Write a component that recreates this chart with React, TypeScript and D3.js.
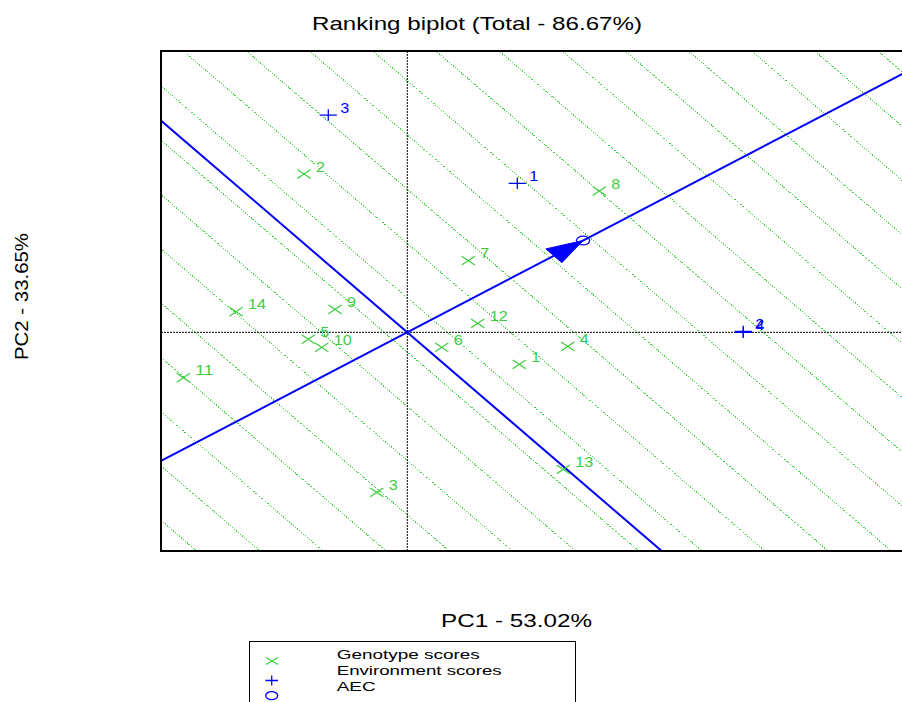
import React from "react";
import * as d3 from "d3";

// Genotype scores (PC1, PC2)
const genotypeIds = ["1", "2", "3", "4", "5", "6", "7", "8", "9", "10", "11", "12", "13", "14"];
const genotypePC1 = [1.12, -1.033, -0.306, 1.604, -0.99, 0.344, 0.61, 1.92, -0.723, -0.856, -2.24, 0.704, 1.56, -1.713];
const genotypePC2 = [-0.478, 2.363, -2.388, -0.209, -0.104, -0.224, 1.069, 2.109, 0.343, -0.224, -0.678, 0.134, -2.045, 0.307];

// Environment scores (PC1, PC2)
const environmentIds = ["1", "2", "3", "4"];
const environmentPC1 = [1.1, 3.36, -0.79, 3.36];
const environmentPC2 = [2.224, 0.012, 3.243, 0.0];

// Ranking guide lines: spacing and first level along the AEC axis
const GUIDE_STEP = 0.498;
const GUIDE_START = -0.181;

const TITLE = "Ranking biplot (Total - 86.67%)";
const X_LABEL = "PC1 - 53.02%";
const Y_LABEL = "PC2 - 33.65%";
const LEGEND_ITEMS = ["Genotype scores", "Environment scores", "AEC"];
const LEGEND_WIDTHS = [143, 165, 39];

const W = 902;
const H = 702;
const PLOT = { left: 161, right: 907, top: 51, bottom: 551 };
const X_DOMAIN = [-2.463, 4.997];
const Y_DOMAIN = [-3.264, 4.199];

const GREEN = "#3dcc3d";
const GREEN_LINE = "#44d644";
const BLUE = "#0000ff";
const FONT = "'Liberation Sans', Arial, sans-serif";
const DIGIT_W = 9; // label width per character

export default function App() {
  const x = d3.scaleLinear().domain(X_DOMAIN).range([PLOT.left, PLOT.right]);
  const y = d3.scaleLinear().domain(Y_DOMAIN).range([PLOT.bottom, PLOT.top]);

  // Average environment coordinate defines the AEC axis
  const aecX = d3.mean(environmentPC1) as number;
  const aecY = d3.mean(environmentPC2) as number;
  const len = Math.hypot(aecX, aecY);
  const ux = aecX / len;
  const uy = aecY / len;

  const FAR = 12;
  const seg = (a: [number, number], b: [number, number]) => ({ x1: x(a[0]), y1: y(a[1]), x2: x(b[0]), y2: y(b[1]) });

  const aecAxis = seg([-FAR * ux, -FAR * uy], [FAR * ux, FAR * uy]);
  const perpAxis = seg([-FAR * uy, FAR * ux], [FAR * uy, -FAR * ux]);

  const guideLevels = d3.range(-9, 15).map((k) => GUIDE_START + k * GUIDE_STEP);

  // Arrowhead (in data space) pointing at the AEC
  const headLen = 0.37;
  const headHalf = 0.13;
  const bx = aecX - headLen * ux;
  const by = aecY - headLen * uy;
  const arrowPts: [number, number][] = [
    [aecX, aecY],
    [bx + headHalf * uy, by - headHalf * ux],
    [bx - headHalf * uy, by + headHalf * ux],
  ];
  const arrowPath = "M" + arrowPts.map((p) => `${x(p[0])},${y(p[1])}`).join("L") + "Z";

  const gx = 0.066; // genotype cross half-size (data units)
  const ex = 0.086; // environment plus half-size (data units)

  const pointLabel = (id: string, px: number, py: number, color: string) => (
    <text
      x={x(px) + 12}
      y={y(py) - 2.5}
      fontSize={14.5}
      textLength={id.length * DIGIT_W}
      lengthAdjust="spacingAndGlyphs"
      fill={color}
    >
      {id}
    </text>
  );

  return (
    <svg
      width={W}
      height={H}
      style={{ position: "fixed", left: 0, top: 0, display: "block", background: "#fff" }}
      fontFamily={FONT}
    >
      <defs>
        <clipPath id="plot-clip">
          <rect x={PLOT.left} y={PLOT.top} width={PLOT.right - PLOT.left} height={PLOT.bottom - PLOT.top} />
        </clipPath>
      </defs>

      <text x={312} y={30} fontSize={18.5} textLength={330} lengthAdjust="spacingAndGlyphs" fill="#000">
        {TITLE}
      </text>

      <g clipPath="url(#plot-clip)">
        {guideLevels.map((c, i) => (
          <line
            key={i}
            {...seg([c * ux - FAR * uy, c * uy + FAR * ux], [c * ux + FAR * uy, c * uy - FAR * ux])}
            stroke={GREEN_LINE}
            strokeWidth={1}
            strokeDasharray="1.3,1.3"
            shapeRendering="crispEdges"
          />
        ))}

        <line x1={PLOT.left} x2={PLOT.right} y1={y(0)} y2={y(0)} stroke="#000" strokeWidth={1} strokeDasharray="2,1" />
        <line x1={x(0)} x2={x(0)} y1={PLOT.top} y2={PLOT.bottom} stroke="#000" strokeWidth={1} strokeDasharray="2,1" />

        <line {...aecAxis} stroke={BLUE} strokeWidth={2} />
        <line {...perpAxis} stroke={BLUE} strokeWidth={2} />
        <path d={arrowPath} fill={BLUE} stroke={BLUE} strokeWidth={1} />
        <ellipse
          cx={x(aecX)}
          cy={y(aecY)}
          rx={x(0.066) - x(0)}
          ry={y(0) - y(0.066)}
          fill="none"
          stroke={BLUE}
          strokeWidth={1.3}
        />

        {genotypeIds.map((id, i) => {
          const px = genotypePC1[i];
          const py = genotypePC2[i];
          return (
            <g key={"g" + id}>
              <path
                d={`M${x(px - gx)},${y(py - gx)}L${x(px + gx)},${y(py + gx)}M${x(px - gx)},${y(py + gx)}L${x(px + gx)},${y(py - gx)}`}
                stroke={GREEN}
                strokeWidth={1.2}
                fill="none"
              />
              {pointLabel(id, px, py, GREEN)}
            </g>
          );
        })}

        {environmentIds.map((id, i) => {
          const px = environmentPC1[i];
          const py = environmentPC2[i];
          return (
            <g key={"e" + id}>
              <path
                d={`M${x(px - ex)},${y(py)}L${x(px + ex)},${y(py)}M${x(px)},${y(py - ex)}L${x(px)},${y(py + ex)}`}
                stroke={BLUE}
                strokeWidth={1.3}
                fill="none"
              />
              {pointLabel(id, px, py, BLUE)}
            </g>
          );
        })}
      </g>

      {/* frame */}
      <line x1={PLOT.left} x2={PLOT.left} y1={PLOT.top - 1} y2={PLOT.bottom + 1} stroke="#000" strokeWidth={2} />
      <line x1={PLOT.left} x2={PLOT.right} y1={PLOT.top} y2={PLOT.top} stroke="#000" strokeWidth={2} />
      <line x1={PLOT.left} x2={PLOT.right} y1={PLOT.bottom} y2={PLOT.bottom} stroke="#000" strokeWidth={2} />
      <line x1={PLOT.right} x2={PLOT.right} y1={PLOT.top} y2={PLOT.bottom} stroke="#000" strokeWidth={2} />

      <text x={441} y={626.5} fontSize={18.5} textLength={151} lengthAdjust="spacingAndGlyphs" fill="#000">
        {X_LABEL}
      </text>
      <text
        transform="translate(28,360) rotate(-90)"
        x={0}
        y={0}
        fontSize={18.5}
        textLength={127}
        lengthAdjust="spacingAndGlyphs"
        fill="#000"
      >
        {Y_LABEL}
      </text>

      {/* legend */}
      <rect x={249.5} y={641.5} width={326} height={80} fill="none" stroke="#000" strokeWidth={1} />
      <path d="M266,657.5L278,664.5M266,664.5L278,657.5" stroke={GREEN} strokeWidth={1.2} fill="none" />
      <path d="M265.5,680.5L278,680.5M271.7,675.5L271.7,685.5" stroke={BLUE} strokeWidth={1.3} fill="none" />
      <ellipse cx={271.7} cy={695.7} rx={6} ry={4} fill="none" stroke={BLUE} strokeWidth={1.3} />
      {LEGEND_ITEMS.map((t, i) => (
        <text
          key={t}
          x={336.7}
          y={659 + i * 16}
          fontSize={13}
          textLength={LEGEND_WIDTHS[i]}
          lengthAdjust="spacingAndGlyphs"
          fill="#000"
        >
          {t}
        </text>
      ))}
    </svg>
  );
}
